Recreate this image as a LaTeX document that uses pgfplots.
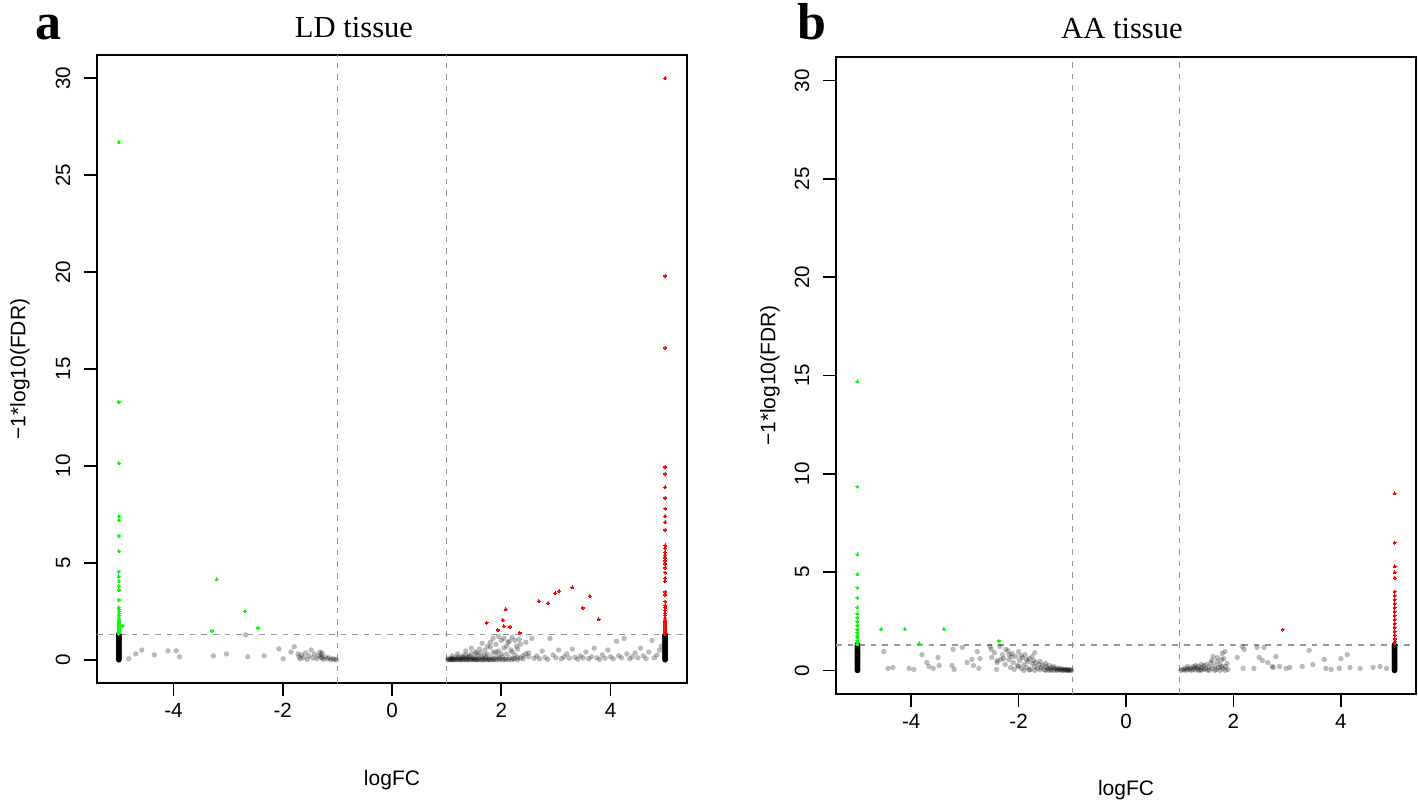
\documentclass[border=0pt]{standalone}
\usepackage{fontspec}
\setmainfont{Liberation Sans}
\newfontfamily\seriffont{Liberation Serif}
\usepackage{pgfplots}
\pgfplotsset{compat=1.18}
\usepackage{pgfplotstable}

\definecolor{rgreen}{RGB}{0,255,0}
\definecolor{rred}{RGB}{255,0,0}
\definecolor{dgray}{RGB}{150,150,150}

% ---------------- Panel a (LD tissue) ----------------
\pgfplotstableread{
x y
-4.82 0.05
-4.69 0.30
-4.58 0.50
-4.35 0.25
-4.10 0.46
-3.95 0.46
-3.89 0.15
-3.27 0.20
-3.03 0.30
-2.68 1.28
-2.64 0.15
-2.34 0.20
-2.07 0.56
-1.99 0.05
-1.85 0.40
-1.79 0.67
-1.70 0.15
-1.72 0.30
-1.68 0.05
-1.65 0.25
-1.62 0.10
-1.58 0.35
-1.55 0.02
-1.52 0.20
-1.48 0.50
-1.45 0.10
-1.42 0.30
-1.38 0.05
-1.35 0.20
-1.32 0.40
-1.30 0.12
-1.28 0.10
-1.25 0.02
-1.22 0.15
-1.18 0.05
-1.15 0.10
-1.12 0.00
-1.08 0.05
-1.05 0.02
-1.30 0.25
-1.28 0.35
-1.02 0.00
1.02 0.02
1.05 0.05
1.08 0.03
1.10 0.08
1.12 0.01
1.15 0.10
1.18 0.04
1.20 0.15
1.22 0.06
1.25 0.02
1.27 0.12
1.30 0.20
1.32 0.05
1.35 0.25
1.37 0.09
1.40 0.03
1.42 0.18
1.45 0.30
1.47 0.07
1.50 0.13
1.52 0.40
1.55 0.02
1.57 0.22
1.60 0.08
1.62 0.35
1.65 0.15
1.67 0.05
1.70 0.50
1.72 0.10
1.75 0.28
1.77 0.02
1.80 0.65
1.82 0.12
1.85 0.38
1.87 0.05
1.90 0.80
1.92 0.20
1.95 0.45
1.97 0.08
2.00 1.00
2.02 0.15
2.05 0.60
2.07 0.03
2.10 0.30
2.12 0.90
2.15 0.10
2.18 0.50
2.20 1.15
2.22 0.05
2.25 0.25
2.28 0.70
2.30 0.12
2.33 1.05
1.10 0.20
1.20 0.30
1.30 0.10
1.35 0.45
1.40 0.15
1.45 0.60
1.50 0.05
1.55 0.35
1.60 0.55
1.65 0.85
1.70 0.25
1.75 0.70
1.80 0.90
1.85 1.10
1.90 0.40
1.95 1.20
2.00 0.30
2.05 1.10
2.10 0.70
2.15 0.95
2.20 0.40
2.25 1.00
2.30 0.55
2.35 0.80
2.40 0.20
2.45 0.90
2.50 0.35
1.03 0.00
1.06 0.00
1.09 0.00
1.13 0.00
1.16 0.00
1.19 0.00
1.23 0.00
1.26 0.00
1.29 0.00
1.33 0.00
1.36 0.00
1.39 0.00
1.43 0.01
1.46 0.00
1.49 0.00
1.53 0.00
1.56 0.00
1.59 0.00
1.63 0.00
1.66 0.00
1.69 0.00
1.73 0.00
1.76 0.02
1.79 0.00
1.83 0.00
1.86 0.00
1.90 0.00
1.94 0.03
1.98 0.00
2.03 0.00
2.08 0.02
2.13 0.00
2.19 0.00
2.24 0.05
2.30 0.00
2.35 0.10
2.40 0.05
2.45 0.30
2.50 0.15
2.56 1.10
2.60 0.08
2.65 0.20
2.70 0.05
2.75 0.45
2.80 0.12
2.85 0.02
2.89 1.10
2.95 0.25
3.00 0.10
3.05 0.50
3.10 0.05
3.15 0.15
3.20 0.30
3.25 0.08
3.30 0.55
3.35 0.12
3.40 0.03
3.45 0.20
3.50 0.10
3.55 0.40
3.60 0.05
3.65 0.15
3.70 0.60
3.75 0.10
3.80 0.02
3.85 0.25
3.90 0.08
3.95 0.50
4.00 0.15
4.05 0.05
4.11 0.95
4.15 0.20
4.20 0.10
4.25 1.10
4.30 0.30
4.35 0.05
4.40 0.15
4.45 0.35
4.50 0.10
4.55 0.60
4.60 0.20
4.65 0.05
4.70 0.40
4.76 1.00
4.80 0.10
4.85 0.25
4.90 0.50
4.93 0.70
}\agray

\pgfplotstableread{
x y
-5 26.7
-5 13.3
-5 10.15
-5 7.4
-5 7.2
-5 6.4
-5 5.6
-5 4.55
-5 4.3
-5 4.05
-5 3.8
-5 3.6
-5 3.1
-5 2.7
-5 2.6
-5 2.5
-5 2.4
-5 2.3
-5 2.2
-5 2.1
-5 2.0
-5 1.9
-5 1.8
-5 1.7
-5 1.6
-5 1.5
-5 1.4
-5 1.35
-4.93 1.75
-3.21 4.15
-2.69 2.5
-2.45 1.64
-3.30 1.49
}\agreen

\pgfplotstableread{
x y
5 30.0
5 19.8
5 16.1
5 9.95
5 9.6
5 8.9
5 8.35
5 7.8
5 7.4
5 7.1
5 6.7
5 5.9
5 5.75
5 5.55
5 5.4
5 5.25
5 5.1
5 4.95
5 4.75
5 4.5
5 4.2
5 4.05
5 3.5
5 3.35
5 3.0
5 2.8
5 2.7
5 2.55
5 2.4
5 2.3
5 2.15
5 2.05
5 1.95
5 1.85
5 1.75
5 1.65
5 1.55
5 1.45
5 1.38
5 1.32
1.73 1.9
1.94 1.54
2.03 2.05
2.05 1.74
2.08 2.6
2.16 1.69
2.34 1.38
2.69 3.03
2.86 2.92
2.99 3.44
3.06 3.54
3.30 3.74
3.49 2.67
3.62 3.28
3.78 2.1
}\ared

% ---------------- Panel b (AA tissue) ----------------
\pgfplotstableread{
x y
-4.51 0.96
-4.43 0.10
-4.34 0.15
-4.04 0.10
-3.95 0.05
-3.80 0.80
-3.71 0.40
-3.67 0.20
-3.59 0.10
-3.50 0.66
-3.48 0.25
-3.22 1.07
-3.24 0.25
-3.20 0.05
-3.05 1.17
-2.96 0.40
-2.87 0.56
-2.84 0.25
-2.77 0.96
-2.74 0.10
-2.72 0.60
-2.53 1.22
-2.51 1.07
-2.50 0.66
-2.41 0.05
-2.40 0.40
-2.35 1.22
-2.33 0.56
-2.24 1.07
-2.18 0.80
-2.13 0.70
-2.45 0.90
-2.40 0.50
-2.30 0.80
-2.28 0.60
-2.25 0.30
-2.20 1.00
-2.18 0.55
-2.15 0.15
-2.12 0.85
-2.10 0.40
-2.08 0.05
-2.05 0.70
-2.02 0.25
-2.00 0.95
-2.00 0.20
-1.98 0.50
-1.95 0.10
-1.95 0.75
-1.93 0.65
-1.90 0.30
-1.90 0.00
-1.88 0.80
-1.85 0.15
-1.85 0.55
-1.83 0.45
-1.80 0.60
-1.80 0.02
-1.78 0.05
-1.75 0.35
-1.75 0.70
-1.72 0.50
-1.70 0.20
-1.70 0.90
-1.70 0.00
-1.68 0.40
-1.65 0.10
-1.62 0.30
-1.60 0.45
-1.60 0.03
-1.58 0.15
-1.55 0.25
-1.52 0.05
-1.50 0.35
-1.50 0.00
-1.48 0.18
-1.45 0.10
-1.45 0.02
-1.43 0.25
-1.40 0.05
-1.40 0.00
-1.38 0.15
-1.35 0.20
-1.35 0.01
-1.33 0.08
-1.30 0.12
-1.30 0.00
-1.28 0.03
-1.25 0.10
-1.25 0.02
-1.22 0.05
-1.20 0.08
-1.20 0.00
-1.18 0.02
-1.15 0.06
-1.15 0.00
-1.12 0.03
-1.10 0.05
-1.10 0.00
-1.08 0.01
-1.06 0.00
-1.05 0.03
-1.03 0.02
-1.01 0.00
1.02 0.00
1.05 0.05
1.08 0.02
1.10 0.10
1.12 0.00
1.15 0.08
1.15 0.20
1.18 0.03
1.20 0.12
1.22 0.00
1.25 0.06
1.25 0.20
1.28 0.15
1.30 0.02
1.30 0.25
1.33 0.10
1.35 0.20
1.35 0.00
1.38 0.05
1.40 0.00
1.40 0.30
1.42 0.15
1.45 0.25
1.45 0.05
1.48 0.08
1.50 0.30
1.52 0.02
1.55 0.18
1.55 0.00
1.58 0.40
1.60 0.10
1.60 0.50
1.62 0.71
1.65 0.25
1.65 0.00
1.68 0.05
1.70 0.45
1.70 0.65
1.72 0.15
1.75 0.30
1.75 0.00
1.78 0.55
1.78 0.20
1.79 0.86
1.80 0.10
1.82 0.60
1.84 0.96
1.85 0.20
1.85 0.00
1.88 0.35
1.90 0.05
2.07 0.66
2.16 1.22
2.20 1.07
2.18 0.10
2.38 0.10
2.44 1.17
2.57 1.17
2.48 0.66
2.54 0.50
2.64 0.40
2.74 0.15
2.72 0.20
2.79 0.71
2.86 0.20
2.98 0.10
3.05 0.15
3.28 0.20
3.41 1.02
3.48 0.30
3.69 0.56
3.72 0.10
3.82 0.05
3.97 0.10
4.00 0.60
4.12 0.80
4.17 0.15
4.36 0.10
4.60 0.15
4.73 0.20
4.85 0.10
}\bgray

\pgfplotstableread{
x y
-5 14.7
-5 9.34
-5 5.9
-5 4.9
-5 4.2
-5 3.7
-5 3.2
-5 2.9
-5 2.7
-5 2.5
-5 2.3
-5 2.1
-5 1.95
-5 1.8
-5 1.65
-5 1.5
-5 1.4
-5 1.32
-4.56 2.1
-4.12 2.1
-3.39 2.1
-3.85 1.37
-2.37 1.5
}\bgreen

\pgfplotstableread{
x y
5 9.0
5 6.5
5 5.3
5 5.0
5 4.7
5 4.0
5 3.8
5 3.6
5 3.4
5 3.2
5 3.0
5 2.8
5 2.6
5 2.4
5 2.2
5 2.0
5 1.8
5 1.6
5 1.45
5 1.35
2.92 2.08
}\bred

% black columns of non-significant genes at the clipped logFC values
\pgfplotstableread{
x y
-5 0.00
-5 0.05
-5 0.10
-5 0.15
-5 0.20
-5 0.25
-5 0.30
-5 0.35
-5 0.40
-5 0.45
-5 0.50
-5 0.55
-5 0.60
-5 0.65
-5 0.70
-5 0.75
-5 0.80
-5 0.85
-5 0.90
-5 0.95
-5 1.00
-5 1.05
-5 1.10
-5 1.15
-5 1.20
-5 1.25
-5 1.30
5 0.00
5 0.05
5 0.10
5 0.15
5 0.20
5 0.25
5 0.30
5 0.35
5 0.40
5 0.45
5 0.50
5 0.55
5 0.60
5 0.65
5 0.70
5 0.75
5 0.80
5 0.85
5 0.90
5 0.95
5 1.00
5 1.05
5 1.10
5 1.15
5 1.20
5 1.25
5 1.30
}\cols

\pgfplotsset{
  vstyle/.style={
    scale only axis,
    xmin=-5.4, xmax=5.4, ymin=-1.2, ymax=31.2,
    xtick={-4,-2,0,2,4}, ytick={0,5,10,15,20,25,30},
    tick align=outside, xtick pos=bottom, ytick pos=left,
    major tick length=6.5pt,
    axis line style={line width=0.9pt},
    every tick/.style={black, line width=0.8pt},
    /pgf/number format/assume math mode=true,
    every tick label/.append style={font=\fontsize{10.3}{12}\selectfont},
    yticklabel style={rotate=90, anchor=south, yshift=3.3pt},
    label style={font=\fontsize{10.5}{12}\selectfont},
    xlabel style={at={(axis description cs:0.5,0)}, anchor=center},
    ylabel style={at={(axis description cs:0,0.5)}, anchor=center},
  },
  gpts/.style={only marks, mark=*, mark size=1.35pt, mark options={draw=black, fill=black, fill opacity=0.27, draw opacity=0, line width=0pt}},
  cpts/.style={only marks, mark=*, mark size=1.2pt, mark options={draw=black, fill=black}},
  gsig/.style={only marks, mark=*, mark size=0.75pt, mark options={draw=rgreen, fill=rgreen, line width=0pt}},
  rsig/.style={only marks, mark=*, mark size=0.75pt, mark options={draw=rred, fill=rred, line width=0pt}},
  refl/.style={dgray, line width=0.7pt, dash pattern=on 2.8pt off 3pt, forget plot},
}

\begin{document}
\begin{tikzpicture}
\useasboundingbox (0,0) rectangle (709pt,404pt);

\begin{axis}[vstyle, at={(48.5pt,62.5pt)}, anchor=south west,
  width=295pt, height=314pt,
  xlabel={logFC}, ylabel={−1*log10(FDR)},
  xlabel style={yshift=-48.5pt}, ylabel style={yshift=38.5pt}]
\addplot[refl] coordinates {(-1,-1.2) (-1,31.2)};
\addplot[refl] coordinates {(1,-1.2) (1,31.2)};
\addplot[refl] coordinates {(-5.4,1.3) (5.4,1.3)};
\addplot[gpts] table[x=x,y=y] {\agray};
\addplot[cpts] table[x=x,y=y] {\cols};
\addplot[gsig] table[x=x,y=y] {\agreen};
\addplot[rsig] table[x=x,y=y] {\ared};
\end{axis}

\begin{axis}[vstyle, at={(418pt,57pt)}, anchor=south west,
  width=290pt, height=318.5pt,
  xlabel={logFC}, ylabel={−1*log10(FDR)},
  xlabel style={yshift=-48pt}, ylabel style={yshift=33pt}]
\addplot[refl] coordinates {(-1,-1.2) (-1,31.2)};
\addplot[refl] coordinates {(1,-1.2) (1,31.2)};
\addplot[refl] coordinates {(-5.4,1.3) (5.4,1.3)};
\addplot[gpts] table[x=x,y=y] {\bgray};
\addplot[cpts] table[x=x,y=y] {\cols};
\addplot[gsig] table[x=x,y=y] {\bgreen};
\addplot[rsig] table[x=x,y=y] {\bred};
\end{axis}

\node[anchor=base, inner sep=0pt, font=\seriffont\fontsize{15.3}{18}\selectfont] at (177pt,385pt) {LD tissue};
\node[anchor=base, inner sep=0pt, font=\seriffont\fontsize{15.3}{18}\selectfont] at (561pt,384.5pt) {AA tissue};
\node[anchor=base west, inner sep=0pt, font=\seriffont\bfseries\fontsize{26}{30}\selectfont] at (17.5pt,384pt) {a};
\node[anchor=base west, inner sep=0pt, font=\seriffont\bfseries\fontsize{26}{30}\selectfont] at (398.5pt,384pt) {b};
\end{tikzpicture}
\end{document}
